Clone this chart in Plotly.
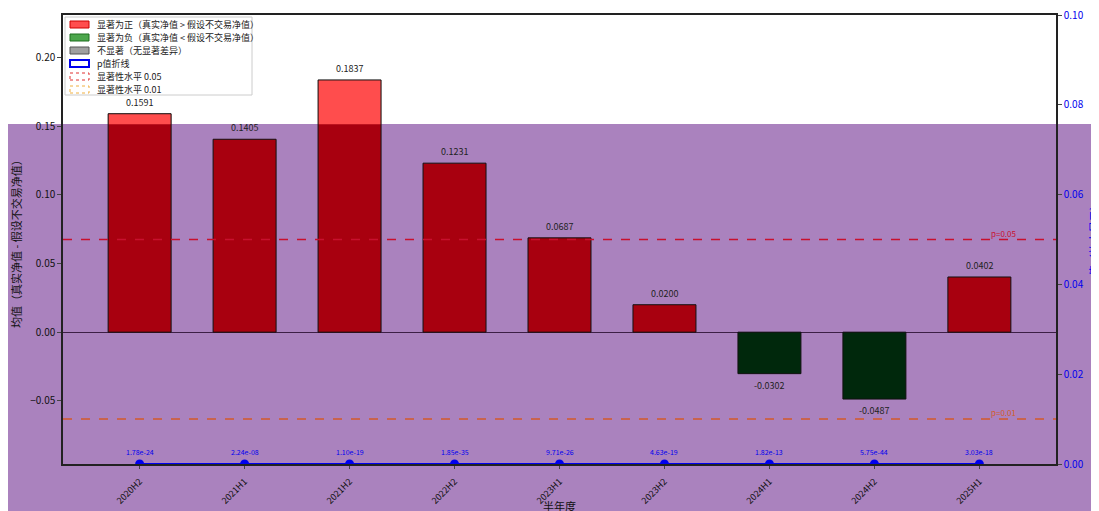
import plotly.graph_objects as go

# ---------------- data ----------------
periods = ["2020H2", "2021H1", "2021H2", "2022H2", "2023H1",
           "2023H2", "2024H1", "2024H2", "2025H1"]
mean_diff = [0.1591, 0.1405, 0.1837, 0.1231, 0.0687, 0.0200, -0.0302, -0.0487, 0.0402]
p_values = [1.78e-24, 2.24e-08, 1.10e-19, 1.85e-35, 9.71e-26,
            4.63e-19, 1.82e-13, 5.75e-44, 3.03e-18]
left_ticks = [-0.05, 0.00, 0.05, 0.10, 0.15, 0.20]
right_ticks = [0.00, 0.02, 0.04, 0.06, 0.08, 0.10]
sig_levels = [0.05, 0.01]
sig_labels = ["p=0.05", "p=0.01"]
legend_labels = ["显著为正（真实净值 > 假设不交易净值）",
                 "显著为负（真实净值 < 假设不交易净值）",
                 "不显著（无显著差异）",
                 "p值折线",
                 "显著性水平 0.05",
                 "显著性水平 0.01"]
x_title = "半年度"
y_title = "均值（真实净值 - 假设不交易净值）"
y2_title = "p值（放大显示）"

# ---------------- styles / layout ----------------
FONT = "Noto Sans CJK SC, Noto Sans, DejaVu Sans, sans-serif"
W, H = 1099, 511
OFF = 7                                   # page body offset
X0, X1, Y0, Y1 = 62, 1055, 14, 463        # plot box in window pixels
ML, MT = X0 - OFF, Y0 - OFF
MR, MB = W - (X1 - OFF), H - (Y1 - OFF)
PW, PH = X1 - X0, Y1 - Y0
OVERLAY_TOP = 0.1515
PURPLE = "#aa82be"
RED_LIGHT = "#ff4d4d"
RED_DARK = "#a8000f"
GREEN_LIGHT = "#4ca64c"
GREEN_DARK = "#00280c"
GRAY = "#a0a0a0"
BLUE = "#0000ee"
LEVEL_COLORS = ["#c8102e", "#d45a2a"]
BAR_W = 0.6


def px(x):
    return (x - X0) / PW


def py(y):
    return (Y1 - y) / PH


fig = go.Figure()

fig.add_trace(go.Bar(
    x=periods, y=mean_diff, width=BAR_W,
    marker=dict(color=[RED_DARK if v > 0 else GREEN_DARK for v in mean_diff],
                line=dict(width=0)),
    showlegend=False, hoverinfo="skip"))
fig.add_trace(go.Bar(
    x=periods, y=[max(v - OVERLAY_TOP, 0) for v in mean_diff], base=OVERLAY_TOP,
    width=BAR_W, marker=dict(color=RED_LIGHT, line=dict(width=0)),
    showlegend=False, hoverinfo="skip"))
fig.add_trace(go.Bar(
    x=periods, y=mean_diff, width=BAR_W,
    marker=dict(color="rgba(0,0,0,0)", line=dict(color="#111111", width=1)),
    showlegend=False, hoverinfo="skip"))

fig.add_trace(go.Scatter(
    x=periods, y=p_values, yaxis="y2", mode="lines+markers",
    line=dict(color=BLUE, width=2), marker=dict(color=BLUE, size=9),
    showlegend=False))

# ---------------- annotations ----------------
ann = []
for cat, v in zip(periods, mean_diff):
    ann.append(dict(x=cat, y=v, xref="x", yref="y", text=f"{v:.4f}", showarrow=False,
                    yanchor="bottom" if v >= 0 else "top", yshift=3 if v >= 0 else -3,
                    font=dict(family=FONT, size=9, color="#222222")))
for cat, p in zip(periods, p_values):
    ann.append(dict(x=cat, y=p, xref="x", yref="y2", text=f"{p:.2e}", showarrow=False,
                    yanchor="bottom", yshift=5,
                    font=dict(family=FONT, size=7, color=BLUE)))
for lvl, lab, col in zip(sig_levels, sig_labels, LEVEL_COLORS):
    ann.append(dict(x=px(1017), y=lvl, xref="paper", yref="y2", text=lab,
                    showarrow=False, yanchor="bottom", yshift=-1,
                    font=dict(family=FONT, size=8, color=col)))

# axis titles
ann.append(dict(x=px(558), y=py(505), xref="paper", yref="paper", text=x_title,
                showarrow=False, yanchor="middle",
                font=dict(family=FONT, size=11, color="#111111")))
ann.append(dict(x=px(15), y=py(240), xref="paper", yref="paper", text=y_title,
                showarrow=False, textangle=-90, xanchor="center", yanchor="middle",
                font=dict(family=FONT, size=11, color="#111111")))
ann.append(dict(x=px(1093), y=py(240), xref="paper", yref="paper", text=y2_title,
                showarrow=False, textangle=-90, xanchor="center", yanchor="middle",
                font=dict(family=FONT, size=11, color=BLUE)))

shapes = [dict(type="rect", xref="paper", yref="paper", x0=px(5), x1=px(1115),
               y0=py(530), y1=py(123), fillcolor=PURPLE, line=dict(width=0),
               layer="below")]
for lvl, col in zip(sig_levels, LEVEL_COLORS):
    shapes.append(dict(type="line", xref="paper", yref="y2", x0=0, x1=1, y0=lvl, y1=lvl,
                       line=dict(color=col, width=1.5, dash="dash")))

# ---------------- compact legend ----------------
shapes.append(dict(type="rect", xref="paper", yref="paper", x0=px(64), x1=px(251),
                   y0=py(94), y1=py(16), fillcolor="rgba(255,255,255,0.92)",
                   line=dict(color="#cccccc", width=1), layer="above"))
icon_styles = [
    dict(fill=RED_LIGHT, line="#cc0000", width=1, dash="solid"),
    dict(fill=GREEN_LIGHT, line="#1e6e1e", width=1, dash="solid"),
    dict(fill=GRAY, line="#555555", width=1, dash="solid"),
    dict(fill="white", line=BLUE, width=2, dash="solid"),
    dict(fill="white", line="#e03030", width=1, dash="dot"),
    dict(fill="white", line="#f0b040", width=1, dash="dot"),
]
for i, (lab, st) in enumerate(zip(legend_labels, icon_styles)):
    yc = 23.5 + i * 13
    shapes.append(dict(type="rect", xref="paper", yref="paper", x0=px(69), x1=px(88),
                       y0=py(yc + 3.5), y1=py(yc - 3.5), fillcolor=st["fill"],
                       line=dict(color=st["line"], width=st["width"], dash=st["dash"]),
                       layer="above"))
    ann.append(dict(x=px(94), y=py(yc), xref="paper", yref="paper", text=lab,
                    showarrow=False, xanchor="left", yanchor="middle",
                    font=dict(family=FONT, size=9, color="#222222")))

fig.update_layout(
    width=W, height=H,
    margin=dict(l=ML, r=MR, t=MT, b=MB),
    paper_bgcolor="white", plot_bgcolor="white",
    barmode="overlay", showlegend=False,
    font=dict(family=FONT, size=10, color="#111111"),
    annotations=ann, shapes=shapes,
    xaxis=dict(categoryorder="array", categoryarray=periods, range=[-0.73, 8.73],
               tickangle=-45, tickfont=dict(size=9), ticks="outside", ticklen=3,
               ticklabelstandoff=4, automargin=False, ticklabeloverflow="allow",
               showline=True, linecolor="#222222", linewidth=1.5, mirror=True,
               showgrid=False, zeroline=False),
    yaxis=dict(range=[-0.096, 0.231], tickvals=left_ticks, tickformat=".2f",
               ticks="outside", ticklen=4, showline=True, linecolor="#222222",
               linewidth=1.5, showgrid=False, zeroline=True, zerolinecolor="#3c1f45",
               zerolinewidth=1, automargin=False, ticklabeloverflow="allow"),
    yaxis2=dict(overlaying="y", side="right", range=[0, 0.1], tickvals=right_ticks,
                tickformat=".2f", tickfont=dict(color=BLUE), ticks="outside", ticklen=4,
                showline=True, linecolor="#222222", linewidth=1.5, showgrid=False,
                zeroline=False, automargin=False, ticklabeloverflow="allow"),
)

fig.write_html("out.html")
